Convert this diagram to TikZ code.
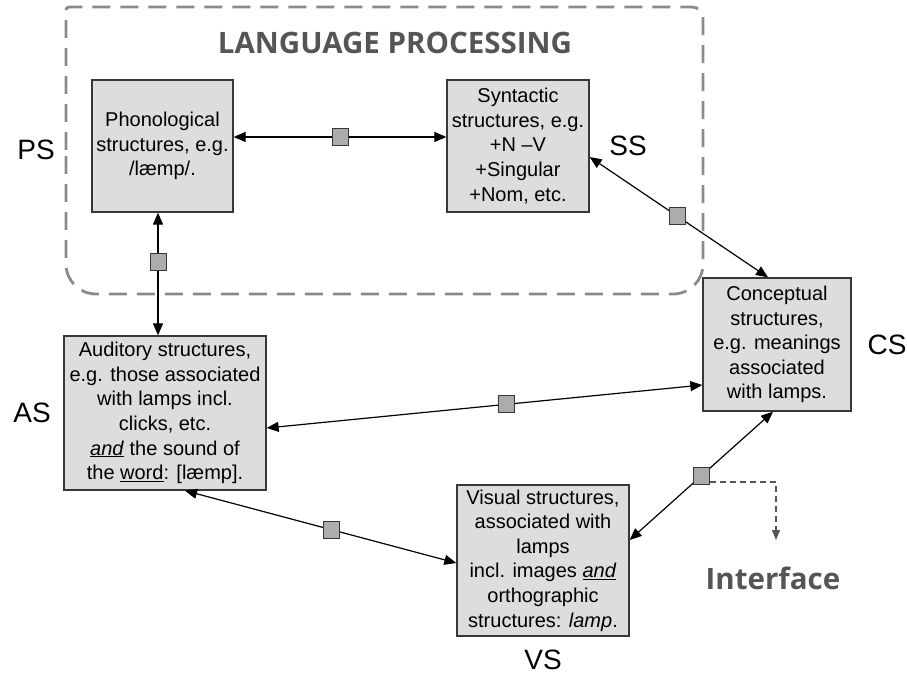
\documentclass[tikz,border=0pt]{standalone}
\usepackage{fontspec}
\setmainfont{Liberation Sans}
\newfontfamily\headfont{Open Sans}
\usetikzlibrary{arrows.meta}

\definecolor{boxfill}{RGB}{220,221,223}
\definecolor{boxline}{RGB}{55,55,55}
\definecolor{markfill}{RGB}{172,172,172}
\definecolor{framegray}{RGB}{138,138,138}
\definecolor{headgray}{RGB}{85,85,85}

\tikzset{
  struct/.style={draw=boxline, fill=boxfill, line width=1.3pt, inner sep=0pt,
    align=center, font=\fontsize{20pt}{24.6pt}\selectfont},
  mk/.style={draw=boxline, fill=markfill, line width=0.9pt, inner sep=0pt,
    minimum width=16pt, minimum height=17pt},
  link/.style={line width=1.2pt, draw=black,
    {Triangle[length=12pt,width=10pt]}-{Triangle[length=12pt,width=10pt]}},
  tag/.style={font=\fontsize{28pt}{30pt}\selectfont, inner sep=0pt},
  headtext/.style={font=\headfont\bfseries\fontsize{29.5pt}{31pt}\selectfont,
    text=headgray, inner sep=0pt},
  frame/.style={draw=framegray, line width=2.8pt, dash pattern=on 18pt off 10pt},
  iface/.style={draw=headgray, line width=1.4pt, dash pattern=on 6pt off 4pt,
    -{Triangle[length=10pt,width=8pt]}}
}

\begin{document}
\begin{tikzpicture}[x=1pt, y=-1pt]
  \useasboundingbox (0,0) rectangle (907,676);

  % language processing frame
  \draw[frame] (66,150) -- (66,10)
    .. controls (66,8.3) and (67.3,7) .. (69,7)
    -- (692,7)
    .. controls (698.1,7) and (703,11.9) .. (703,18)
    -- (703,264)
    .. controls (703,280.6) and (689.6,294) .. (673,294)
    -- (96,294)
    .. controls (79.4,294) and (66,280.6) .. (66,264)
    -- cycle;
  \node[headtext] (title) at (395,43) {LANGUAGE PROCESSING};

  % structure boxes
  \node[struct, minimum width=141pt, minimum height=132pt] (ps) at (162.5,146)
    {Phonological\\structures, e.g.\\/læmp/.};
  \node[struct, minimum width=142pt, minimum height=132pt] (ss) at (518,146)
    {Syntactic\\structures, e.g.\\+N –V\\+Singular\\+Nom, etc.};
  \node[struct, minimum width=148pt, minimum height=133pt] (cs) at (777,344.5)
    {Conceptual\\structures,\\e.g. meanings\\associated\\with lamps.};
  \node[struct, minimum width=202pt, minimum height=154pt] (as) at (165,413)
    {Auditory structures,\\e.g. those associated\\with lamps incl.\\clicks, etc.\\
     \underline{\textit{and}} the sound of\\the \underline{word}: [læmp].};
  \node[struct, minimum width=172pt, minimum height=151pt] (vs) at (543,560.5)
    {Visual structures,\\associated with\\lamps\\incl. images \underline{\textit{and}}\\
     orthographic\\structures: \textit{lamp}.};

  % abbreviations
  \node[tag] (pslab) at (36,150) {PS};
  \node[tag] (sslab) at (628,146) {SS};
  \node[tag] (cslab) at (887,345) {CS};
  \node[tag] (aslab) at (32,413) {AS};
  \node[tag] (vslab) at (543,660) {VS};

  % interfaces between structures
  \draw[link] ([yshift=9pt]ps.east) -- node[mk, pos=0.5] (mps) {} ([yshift=9pt]ss.west);
  \draw[link] ([yshift=-11pt]ss.east) -- node[mk, pos=0.49] (msc) {} ([xshift=-9pt]cs.north);
  \draw[link] ([xshift=-4.5pt]ps.south) -- node[mk, pos=0.4] (mpa) {} ([xshift=-7pt]as.north);
  \draw[link] ([yshift=-15pt]as.east) -- node[mk, pos=0.55] (mac) {} ([yshift=-40.5pt]cs.west);
  \draw[link] ([xshift=20pt]as.south) -- node[mk, pos=0.54] (mav) {} ([yshift=-2.5pt]vs.west);
  \draw[link] ([xshift=-4pt]cs.south) -- node[mk, pos=0.5] (mcv) {} ([yshift=20.5pt]vs.east);

  % interface callout
  \coordinate (ifc) at (776,540);
  \draw[iface] ([yshift=-6pt]mcv.east) -| (ifc);
  \node[headtext] (iflab) at (773,578) {Interface};
\end{tikzpicture}
\end{document}
